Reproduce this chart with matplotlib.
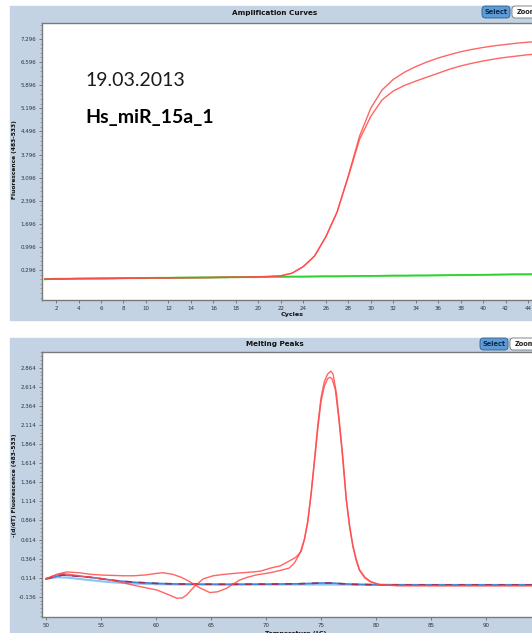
import numpy as np
import matplotlib
matplotlib.use("Agg")
import matplotlib.pyplot as plt
from matplotlib.patches import Rectangle, FancyBboxPatch
from matplotlib.ticker import FixedLocator, AutoMinorLocator

# Amplification curves (cycle 1..45)
cycles = list(range(1, 46))
amp_red_1 = [0.02, 0.03, 0.03, 0.03, 0.04, 0.03, 0.04, 0.05, 0.05, 0.05,
             0.06, 0.05, 0.06, 0.06, 0.07, 0.07, 0.07, 0.08, 0.08, 0.09,
             0.10, 0.12, 0.20, 0.40, 0.72, 1.30, 2.05, 3.15, 4.35, 5.20,
             5.75, 6.07, 6.29, 6.46, 6.60, 6.72, 6.82, 6.91, 6.98, 7.04,
             7.09, 7.13, 7.17, 7.20, 7.22]
amp_red_2 = [0.02, 0.02, 0.03, 0.04, 0.03, 0.04, 0.04, 0.04, 0.05, 0.06,
             0.05, 0.06, 0.06, 0.07, 0.06, 0.07, 0.08, 0.07, 0.08, 0.09,
             0.10, 0.12, 0.20, 0.40, 0.72, 1.30, 2.05, 3.12, 4.25, 4.95,
             5.45, 5.72, 5.89, 6.02, 6.14, 6.26, 6.38, 6.48, 6.56, 6.63,
             6.69, 6.74, 6.78, 6.82, 6.85]
amp_green_1 = [0.02, 0.03, 0.03, 0.03, 0.04, 0.04, 0.04, 0.05, 0.05, 0.05,
               0.06, 0.06, 0.06, 0.06, 0.07, 0.07, 0.07, 0.08, 0.08, 0.08,
               0.09, 0.09, 0.09, 0.10, 0.10, 0.10, 0.10, 0.11, 0.11, 0.11,
               0.12, 0.12, 0.12, 0.13, 0.13, 0.13, 0.14, 0.14, 0.14, 0.15,
               0.15, 0.16, 0.16, 0.16, 0.17]
amp_green_2 = [0.01, 0.02, 0.03, 0.04, 0.04, 0.05, 0.05, 0.05, 0.05, 0.06,
               0.06, 0.06, 0.07, 0.07, 0.07, 0.07, 0.08, 0.08, 0.08, 0.09,
               0.09, 0.09, 0.10, 0.09, 0.10, 0.11, 0.11, 0.11, 0.12, 0.12,
               0.12, 0.13, 0.13, 0.13, 0.13, 0.14, 0.14, 0.15, 0.15, 0.15,
               0.16, 0.16, 0.17, 0.17, 0.18]

amp_yticks = [0.296, 0.996, 1.696, 2.396, 3.096, 3.796, 4.496, 5.196, 5.896, 6.596, 7.296]
amp_xticks = list(range(2, 46, 2))

# Melting peaks
melt_a_t = [50.0, 50.5, 51.0, 51.9, 53.0, 54.0, 55.0, 56.0, 57.0, 58.0, 59.0, 60.0,
            60.6, 61.5, 62.3, 63.1, 64.0, 64.9, 65.6, 66.4, 67.0, 67.6, 68.3, 69.1,
            70.4, 71.3, 72.1, 72.6, 73.1, 73.5, 73.8, 74.1, 74.4, 74.7, 75.0, 75.3,
            75.6, 75.8, 76.0, 76.3, 76.6, 76.9, 77.3, 77.6, 77.9, 78.2, 78.5, 79.0,
            79.5, 80.4, 82.0, 86.0, 90.0, 95.0]
melt_a_v = [0.10, 0.13, 0.16, 0.19, 0.18, 0.16, 0.15, 0.145, 0.14, 0.14, 0.15, 0.17,
            0.18, 0.16, 0.12, 0.06, -0.02, -0.08, -0.07, -0.025, 0.03, 0.084, 0.12, 0.15,
            0.18, 0.21, 0.24, 0.31, 0.44, 0.62, 0.85, 1.20, 1.62, 2.05, 2.42, 2.62,
            2.72, 2.74, 2.72, 2.58, 2.22, 1.79, 1.13, 0.78, 0.52, 0.34, 0.21, 0.11,
            0.06, 0.02, 0.01, 0.01, 0.01, 0.01]
melt_b_t = [50.0, 50.5, 51.5, 52.5, 53.5, 54.9, 56.0, 57.0, 57.9, 59.0, 60.1, 61.0,
            61.9, 62.4, 62.8, 63.5, 64.3, 65.2, 66.0, 67.0, 68.8, 69.5, 70.4, 71.3,
            72.2, 72.7, 73.2, 73.5, 73.8, 74.1, 74.4, 74.7, 75.0, 75.3, 75.6, 75.9,
            76.1, 76.4, 76.7, 77.0, 77.3, 77.6, 77.9, 78.2, 78.5, 79.0, 79.5, 80.4,
            82.0, 86.0, 90.0, 95.0]
melt_b_v = [0.10, 0.13, 0.17, 0.15, 0.13, 0.106, 0.08, 0.05, 0.018, -0.015, -0.047, -0.10,
            -0.155, -0.15, -0.11, 0.00, 0.10, 0.14, 0.155, 0.17, 0.19, 0.20, 0.24, 0.27,
            0.34, 0.38, 0.46, 0.62, 0.85, 1.22, 1.65, 2.10, 2.47, 2.68, 2.78, 2.82,
            2.78, 2.53, 2.12, 1.68, 1.15, 0.80, 0.54, 0.36, 0.22, 0.12, 0.065, 0.02,
            0.012, 0.01, 0.01, 0.01]
melt_c_t = [50.0, 51.5, 52.5, 54.0, 56.4, 58.0, 60.1, 62.0, 63.4, 66.0, 70.0, 73.0,
            75.0, 76.0, 77.0, 78.0, 80.0, 85.0, 90.0, 95.0]
melt_c_v = [0.10, 0.15, 0.14, 0.12, 0.075, 0.055, 0.04, 0.032, 0.03, 0.028, 0.03, 0.035,
            0.045, 0.045, 0.035, 0.028, 0.022, 0.02, 0.02, 0.02]
melt_d_t = [50.0, 51.0, 52.0, 53.5, 55.5, 57.5, 60.0, 62.0, 70.0, 75.0, 80.0, 85.0, 90.0, 95.0]
melt_d_v = [0.10, 0.12, 0.115, 0.09, 0.06, 0.04, 0.03, 0.025, 0.025, 0.025, 0.022, 0.02, 0.02, 0.02]

melt_yticks = [-0.136, 0.114, 0.364, 0.614, 0.864, 1.114, 1.364, 1.614, 1.864, 2.114, 2.364, 2.614, 2.864]
melt_xticks = [50, 55, 60, 65, 70, 75, 80, 85, 90, 95]

W, H = 532, 633
panel_col = '#c3d3e4'
red = '#ff4a4a'


def fx(px):
    return px / W


def fy(py):
    return 1 - py / H


fig = plt.figure(figsize=(W / 100, H / 100), dpi=100)

# panel backgrounds
for top, bot in [(6, 320), (338, 640)]:
    fig.add_artist(Rectangle((fx(10), fy(bot)), 1.2, fy(top) - fy(bot),
                             transform=fig.transFigure, color=panel_col, zorder=0))


def button(x, y, w, h, label, fc, ec, tc):
    fig.add_artist(FancyBboxPatch((fx(x), fy(y + h)), w / W, h / H,
                                  boxstyle="round,pad=0,rounding_size=0.006",
                                  transform=fig.transFigure, fc=fc, ec=ec, lw=0.6, zorder=1))
    fig.text(fx(x + w / 2), fy(y + h / 2), label, fontsize=4.8, fontweight='bold',
             color=tc, ha='center', va='center', zorder=2)


def style_axes(ax):
    ax.set_facecolor('white')
    for s in ['left', 'bottom', 'top']:
        ax.spines[s].set_color('#7a7a7a')
        ax.spines[s].set_linewidth(1.0)
    ax.spines['right'].set_visible(False)
    ax.tick_params(axis='both', which='major', labelsize=4, length=2.5, width=0.5,
                   color='#555555', labelcolor='#333333', pad=1.5)
    ax.tick_params(axis='y', which='minor', length=1.2, width=0.4, color='#777777')
    ax.tick_params(axis='x', which='minor', length=0)


# ---- amplification curves ----
ax1 = fig.add_axes([fx(42), fy(300), fx(537) - fx(42), fy(22.7) - fy(300)])
ax1.plot(cycles, amp_green_1, color='#33dd33', lw=1.4, alpha=0.8)
ax1.plot(cycles, amp_green_2, color='#22cc22', lw=1.1, alpha=0.8)
ax1.plot(cycles, amp_red_1, color=red, lw=1.0, alpha=0.85)
ax1.plot(cycles, amp_red_2, color=red, lw=1.0, alpha=0.85)
ax1.set_xlim(0.751, 44.79)
ax1.set_ylim(-0.613, 7.79)
ax1.yaxis.set_major_locator(FixedLocator(amp_yticks))
ax1.set_yticklabels([f"{v:.3f}" for v in amp_yticks])
ax1.yaxis.set_minor_locator(AutoMinorLocator(5))
ax1.xaxis.set_major_locator(FixedLocator(amp_xticks))
style_axes(ax1)

fig.text(fx(275), fy(13), 'Amplification Curves', fontsize=5.2, fontweight='bold',
         ha='center', va='center', color='#111111')
fig.text(fx(292), fy(315), 'Cycles', fontsize=4.6, fontweight='bold',
         ha='center', va='center', color='#111111')
fig.text(fx(15), fy(160), 'Fluorescence (483-533)', fontsize=4.2, fontweight='bold',
         ha='center', va='center', rotation=90, color='#111111')
button(482, 6, 28, 12, 'Select', '#5d9ad6', '#2f5f8f', '#0d2b4a')
button(512, 6, 30, 12, 'Zoom', 'white', '#777777', '#222222')

fig.text(fx(85), fy(80), '19.03.2013', fontsize=14, family='Lato',
         ha='left', va='center', color='#1a1a1a')
fig.text(fx(85), fy(117), 'Hs_miR_15a_1', fontsize=14, family='Lato', fontweight='bold',
         ha='left', va='center', color='#000000')

# ---- melting peaks ----
ax2 = fig.add_axes([fx(42), fy(617), fx(537) - fx(42), fy(352) - fy(617)])
ax2.plot(melt_d_t, melt_d_v, color='#8fc3f5', lw=1.5)
ax2.plot(melt_c_t, melt_c_v, color='#3f86dd', lw=1.2)
ax2.plot(melt_c_t, melt_c_v, color='#a0304f', lw=1.2, dashes=(4, 4))
ax2.plot(melt_a_t, melt_a_v, color=red, lw=1.0, alpha=0.85)
ax2.plot(melt_b_t, melt_b_v, color=red, lw=1.0, alpha=0.85)
ax2.set_xlim(49.636, 94.64)
ax2.set_ylim(-0.40, 3.07)
ax2.yaxis.set_major_locator(FixedLocator(melt_yticks))
ax2.set_yticklabels([f"{v:.3f}" for v in melt_yticks])
ax2.yaxis.set_minor_locator(AutoMinorLocator(5))
ax2.xaxis.set_major_locator(FixedLocator(melt_xticks))
style_axes(ax2)

fig.text(fx(275), fy(344), 'Melting Peaks', fontsize=5.2, fontweight='bold',
         ha='center', va='center', color='#111111')
fig.text(fx(296), fy(633), 'Temperature (°C)', fontsize=4.6, fontweight='bold',
         ha='center', va='center', color='#111111')
fig.text(fx(15), fy(485), '-(d/dT) Fluorescence (483-533)', fontsize=4.2, fontweight='bold',
         ha='center', va='center', rotation=90, color='#111111')
button(480, 338, 28, 12, 'Select', '#5d9ad6', '#2f5f8f', '#0d2b4a')
button(510, 338, 30, 12, 'Zoom', 'white', '#777777', '#222222')

fig.savefig('out.png', dpi=100)
